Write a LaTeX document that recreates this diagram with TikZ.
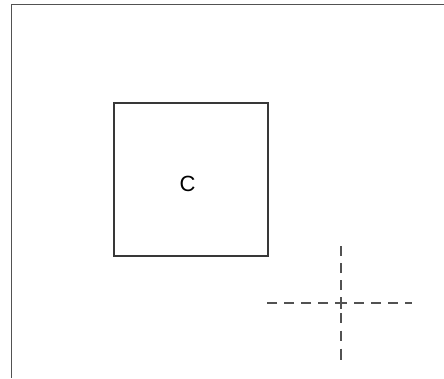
\documentclass[tikz,border=0pt]{standalone}
\usepackage{fontspec}
\setmainfont{Liberation Sans}
\begin{document}
\begin{tikzpicture}[x=1pt,y=-1pt,
  frame/.style={draw=black!68,line width=1.8pt},
  boxC/.style={draw=black!78,line width=1.2pt},
  crossline/.style={draw=black!68,line width=1.3pt},
  armdash/.style={dash pattern=on 6pt off 7pt on 10pt off 7pt on 10pt off 7pt on 10pt off 7pt on 10pt off 7pt},
  lowdash/.style={dash pattern=on 6pt off 4pt on 10pt off 7.5pt on 10.5pt off 7.5pt on 11pt off 7.5pt}]
  \useasboundingbox (0,0) rectangle (444,378);
  % open frame: top and left edges only
  \draw[frame] (444,4.5) -- (11.5,4.5) -- (11.5,378);
  % square labelled C
  \draw[boxC] (114,103) rectangle (268,256);
  \node[font=\fontsize{22}{24}\selectfont] (c) at (187.5,184) {C};
  % dashed cross, each arm drawn outward from the centre
  \coordinate (x0) at (341,303);
  \coordinate (xl) at (267,303);
  \coordinate (xr) at (412,303);
  \coordinate (xu) at (341,244);
  \coordinate (xd) at (341,360);
  \draw[crossline,armdash] (x0) -- (xl);
  \draw[crossline,armdash] (x0) -- (xr);
  \draw[crossline,armdash] (x0) -- (xu);
  \draw[crossline,lowdash] (x0) -- (xd);
\end{tikzpicture}
\end{document}
